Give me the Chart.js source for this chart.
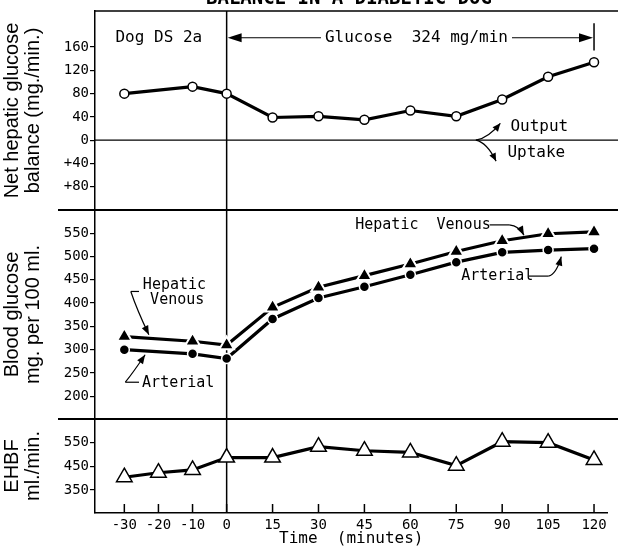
<!DOCTYPE html>
<html>
<head>
<meta charset="utf-8">
<script src="https://cdn.jsdelivr.net/npm/chart.js@4.4.1/dist/chart.umd.min.js"></script>
<style>
  html, body { margin: 0; padding: 0; background: #fff; }
  #wrap { width: 618px; height: 548px; }
</style>
</head>
<body>
<div id="wrap"><canvas id="balanceChart"></canvas></div>
<script>
// time axis (minutes)
const timeLabels = [-30, -20, -10, 0, 15, 30, 45, 60, 75, 90, 105, 120];
const glucoseTimes = [-30, -10, 0, 15, 30, 45, 60, 75, 90, 105, 120];

// net hepatic glucose balance, mg/min (output positive)
const netBalance = [80, 92, 80, 39, 41, 35, 51, 41, 70, 109, 134];
// blood glucose, mg per 100 ml
const hepaticVenous = [328, 318, 310, 391, 434, 459, 484, 511, 534, 549, 553];
const arterial = [300, 291, 281, 366, 411, 435, 461, 488, 509, 514, 517];
// estimated hepatic blood flow, ml/min
const ehbf = [404, 423, 435, 487, 487, 533, 516, 509, 453, 554, 550, 477];

const balanceTicks = [160, 120, 80, 40, 0, -40, -80];
const balanceTickLabels = ["160", "120", "80", "40", "0", "+40", "+80"];
const glucoseTicks = [550, 500, 450, 400, 350, 300, 250, 200];
const ehbfTicks = [550, 450, 350];

const pts = (xs, ys) => xs.map((x, i) => ({ x: x, y: ys[i] }));

// the sheet draws the minutes before 0 a little wider than the ones after
const PRE_STRETCH = 1.114;

class SplitTimeScale extends Chart.LinearScale {
  _total() {
    return -this.min * PRE_STRETCH + this.max;
  }
  getPixelForValue(v) {
    const pre = -this.min * PRE_STRETCH;
    const d = v <= 0 ? (v - this.min) * PRE_STRETCH : pre + v;
    return this.getPixelForDecimal(d / this._total());
  }
  getValueForPixel(p) {
    const pre = -this.min * PRE_STRETCH;
    const at = this.getDecimalForPixel(p) * this._total();
    return at <= pre ? this.min + at / PRE_STRETCH : at - pre;
  }
}
SplitTimeScale.id = "splitTime";
SplitTimeScale.defaults = {};
Chart.register(SplitTimeScale);

const MONO = "'DejaVu Sans Mono', monospace";
const SANS = "'Liberation Sans', Arial, sans-serif";

function seg(ctx, x1, y1, x2, y2, w) {
  ctx.lineWidth = w;
  ctx.beginPath();
  ctx.moveTo(x1, y1);
  ctx.lineTo(x2, y2);
  ctx.stroke();
}

function head(ctx, fx, fy, tx, ty, len, half) {
  const a = Math.atan2(ty - fy, tx - fx);
  const c = Math.cos(a), s = Math.sin(a);
  ctx.beginPath();
  ctx.moveTo(tx, ty);
  ctx.lineTo(tx - len * c + half * s, ty - len * s - half * c);
  ctx.lineTo(tx - len * c - half * s, ty - len * s + half * c);
  ctx.closePath();
  ctx.fill();
}

function curvedArrow(ctx, x1, y1, cx, cy, x2, y2, w, len, half) {
  ctx.lineWidth = w;
  ctx.beginPath();
  ctx.moveTo(x1, y1);
  ctx.quadraticCurveTo(cx, cy, x2, y2);
  ctx.stroke();
  head(ctx, cx, cy, x2, y2, len, half);
}

const sheet = {
  id: "sheet",
  beforeDatasetsDraw(chart) {
    const { ctx, chartArea: a } = chart;
    const { x, yBalance, yGlucose, yEhbf } = chart.scales;
    ctx.save();
    ctx.strokeStyle = "#000";
    seg(ctx, a.left, a.top, chart.width, a.top, 1.5);
    seg(ctx, 58, yGlucose.top, chart.width, yGlucose.top, 2);
    seg(ctx, 58, yEhbf.top, chart.width, yEhbf.top, 2);
    const y0 = yBalance.getPixelForValue(0);
    seg(ctx, a.left, y0, chart.width, y0, 1.2);
    const x0 = x.getPixelForValue(0);
    seg(ctx, x0, a.top, x0, a.bottom, 1.5);
    x.ticks.forEach((t) => {
      const px = x.getPixelForValue(t.value);
      seg(ctx, px, a.bottom - 9, px, a.bottom, 1.5);
    });
    ctx.restore();
  },
  afterDatasetsDraw(chart) {
    const { ctx } = chart;
    const { x, yBalance: yb, yGlucose: yg } = chart.scales;
    ctx.save();
    ctx.fillStyle = "#000";
    ctx.strokeStyle = "#000";

    // title, mostly cut off by the top edge
    ctx.font = "bold 19px " + MONO;
    ctx.textAlign = "center";
    ctx.textBaseline = "alphabetic";
    ctx.fillText("BALANCE IN A DIABETIC DOG", 349, 4);
    ctx.textBaseline = "middle";

    // top panel
    ctx.font = "16px " + MONO;
    ctx.textAlign = "left";
    const ya = yb.getPixelForValue(176);
    ctx.fillText("Dog DS 2a", x.getPixelForValue(-32.6), ya);

    const label = "Glucose  324 mg/min";
    ctx.textAlign = "center";
    const cx = x.getPixelForValue(62);
    ctx.fillText(label, cx, ya);
    const w = ctx.measureText(label).width;
    const xs = x.getPixelForValue(0), xe = x.getPixelForValue(120);
    seg(ctx, cx - w / 2 - 4, ya, xs + 6, ya, 1.2);
    head(ctx, xs + 20, ya, xs + 1, ya, 14, 4.5);
    seg(ctx, cx + w / 2 + 4, ya, xe - 6, ya, 1.2);
    head(ctx, xe - 20, ya, xe - 1, ya, 14, 4.5);
    seg(ctx, xe, yb.getPixelForValue(201), xe, yb.getPixelForValue(154), 1.5);

    const jx = x.getPixelForValue(81.4), jy = yb.getPixelForValue(0);
    curvedArrow(ctx, jx, jy, x.getPixelForValue(85.5), yb.getPixelForValue(4),
      x.getPixelForValue(89.4), yb.getPixelForValue(29), 1.3, 8, 3.5);
    curvedArrow(ctx, jx, jy, x.getPixelForValue(85), yb.getPixelForValue(-4),
      x.getPixelForValue(88), yb.getPixelForValue(-36), 1.3, 8, 3.5);
    ctx.textAlign = "left";
    ctx.fillText("Output", x.getPixelForValue(92.7), yb.getPixelForValue(23));
    ctx.fillText("Uptake", x.getPixelForValue(91.7), yb.getPixelForValue(-21));

    // blood glucose panel
    ctx.font = "15px " + MONO;
    ctx.textAlign = "center";
    ctx.fillText("Hepatic", x.getPixelForValue(-15.3), yg.getPixelForValue(439));
    ctx.fillText("Venous", x.getPixelForValue(-14.5), yg.getPixelForValue(407));
    let px = x.getPixelForValue(-28.1), py = yg.getPixelForValue(425);
    seg(ctx, px, py, x.getPixelForValue(-25.7), py, 1.2);
    curvedArrow(ctx, px, py, px + 6, py + 18, x.getPixelForValue(-22.8), yg.getPixelForValue(332), 1.2, 9, 3.5);

    ctx.textAlign = "left";
    ctx.fillText("Arterial", x.getPixelForValue(-24.8), yg.getPixelForValue(228));
    px = x.getPixelForValue(-29.7); py = yg.getPixelForValue(230);
    seg(ctx, px, py, x.getPixelForValue(-25.7), py, 1.2);
    curvedArrow(ctx, px, py, px + 8, py - 10, x.getPixelForValue(-23.9), yg.getPixelForValue(289), 1.2, 9, 3.5);

    ctx.fillText("Hepatic  Venous", x.getPixelForValue(42), yg.getPixelForValue(568));
    px = x.getPixelForValue(85.9); py = yg.getPixelForValue(568);
    const hx = x.getPixelForValue(92.3);
    seg(ctx, px, py, hx, py, 1.2);
    curvedArrow(ctx, hx, py, hx + 10, py + 1, x.getPixelForValue(97.1), yg.getPixelForValue(546), 1.2, 9, 3.5);

    ctx.fillText("Arterial", x.getPixelForValue(76.6), yg.getPixelForValue(458));
    px = x.getPixelForValue(98.7); py = yg.getPixelForValue(458);
    const ax = x.getPixelForValue(105.1);
    seg(ctx, px, py, ax, py, 1.2);
    curvedArrow(ctx, ax, py, ax + 8, py - 2, x.getPixelForValue(109.3), yg.getPixelForValue(500), 1.2, 9, 3.5);

    ctx.restore();
  }
};

function yAxis(ticks, labels, min, max, weight, stackWeight, title) {
  return {
    type: "linear",
    position: "left",
    stack: "panels",
    stackWeight: stackWeight,
    weight: weight,
    min: min,
    max: max,
    afterBuildTicks: (s) => { s.ticks = ticks.map((v) => ({ value: v })); },
    afterFit: (s) => { s.width = 95; },
    grid: { drawOnChartArea: false, color: "#000", lineWidth: 1.2, tickLength: 5 },
    border: { color: "#000", width: 1.5 },
    ticks: {
      color: "#000",
      padding: 1,
      autoSkip: false,
      font: { family: MONO, size: 14 },
      callback: (v) => labels ? labels[ticks.indexOf(v)] : String(v)
    },
    title: {
      display: true,
      text: title,
      color: "#000",
      font: { family: SANS, size: 20, lineHeight: 1.05 },
      padding: { top: 1.5, bottom: 0 }
    }
  };
}

new Chart(document.getElementById("balanceChart"), {
  type: "line",
  data: {
    datasets: [
      {
        label: "Net hepatic glucose balance",
        data: pts(glucoseTimes, netBalance),
        yAxisID: "yBalance",
        borderColor: "#000",
        borderWidth: 3.2,
        pointStyle: "circle",
        pointRadius: 4.5,
        pointBackgroundColor: "#fff",
        pointBorderColor: "#000",
        pointBorderWidth: 1.5
      },
      {
        label: "Hepatic Venous",
        data: pts(glucoseTimes, hepaticVenous),
        yAxisID: "yGlucose",
        borderColor: "#000",
        borderWidth: 3.2,
        pointStyle: "triangle",
        pointRadius: 8.5,
        pointBackgroundColor: "#000",
        pointBorderColor: "#fff",
        pointBorderWidth: 2
      },
      {
        label: "Arterial",
        data: pts(glucoseTimes, arterial),
        yAxisID: "yGlucose",
        borderColor: "#000",
        borderWidth: 3.2,
        pointStyle: "circle",
        pointRadius: 5,
        pointBackgroundColor: "#000",
        pointBorderColor: "#fff",
        pointBorderWidth: 1.5
      },
      {
        label: "EHBF",
        data: pts(timeLabels, ehbf),
        yAxisID: "yEhbf",
        borderColor: "#000",
        borderWidth: 3.2,
        pointStyle: "triangle",
        pointRadius: 9,
        pointBackgroundColor: "#fff",
        pointBorderColor: "#000",
        pointBorderWidth: 1.5
      }
    ]
  },
  options: {
    responsive: true,
    maintainAspectRatio: false,
    devicePixelRatio: 1,
    animation: false,
    layout: { padding: { top: 11, right: 1, left: 0, bottom: 0 } },
    plugins: { legend: { display: false }, tooltip: { enabled: false } },
    scales: {
      x: {
        type: "splitTime",
        position: "bottom",
        min: -38.6,
        max: 124.4,
        afterBuildTicks: (s) => { s.ticks = timeLabels.map((v) => ({ value: v })); },
        afterFit: (s) => { s.height = 35; },
        grid: { drawOnChartArea: false, drawTicks: false },
        border: { color: "#000", width: 1.5 },
        ticks: {
          color: "#000",
          padding: 4,
          autoSkip: false,
          maxRotation: 0,
          font: { family: MONO, size: 14 },
          callback: (v) => String(v)
        },
        title: {
          display: true,
          text: "Time  (minutes)",
          color: "#000",
          font: { family: MONO, size: 16 },
          padding: { top: 0, bottom: 0 }
        }
      },
      yEhbf: yAxis(ehbfTicks, null, 253, 650, 1, 94, ["EHBF", "ml./min."]),
      yGlucose: yAxis(glucoseTicks, null, 151, 600, 2, 209, ["Blood glucose", "mg. per 100 ml."]),
      yBalance: yAxis(balanceTicks, balanceTickLabels, -120, 222, 3, 199, ["Net hepatic glucose", "balance (mg./min.)"])
    }
  },
  plugins: [sheet]
});
</script>
</body>
</html>
